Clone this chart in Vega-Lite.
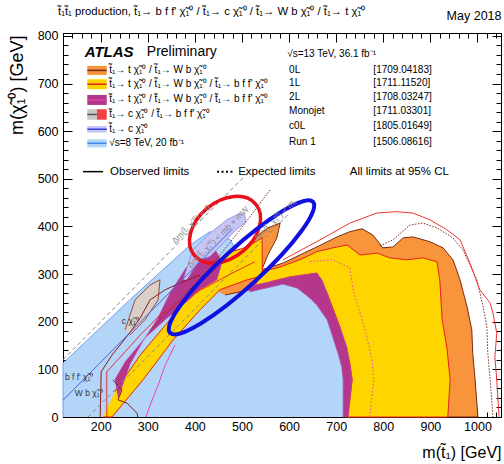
{
"$schema": "https://vega.github.io/schema/vega-lite/v6.json",
"width": 438, "height": 384, "autosize": "none",
"padding": {"left": 63, "top": 33, "right": 3, "bottom": 47},
"background": "white",
"config": {"view": {"stroke": "black", "strokeWidth": 1}, "font": "Liberation Sans"},
"title": {"text": "t̃₁t̃₁ production, t̃₁→ b f f' χ̃₁⁰ / t̃₁→ c χ̃₁⁰ / t̃₁→ W b χ̃₁⁰ / t̃₁→ t χ̃₁⁰", "anchor": "start", "frame": "group", "fontSize": 11.3, "fontWeight": "normal", "font": "Liberation Sans", "color": "black", "offset": -8, "dx": -5},
"datasets": {
"poly": [
{"id":"run1","o":1,"x":120,"y":0},{"id":"run1","o":2,"x":120,"y":113},{"id":"run1","o":3,"x":262,"y":246},{"id":"run1","o":4,"x":390,"y":361},{"id":"run1","o":5,"x":432,"y":389},{"id":"run1","o":6,"x":475,"y":372},{"id":"run1","o":7,"x":506,"y":319},{"id":"run1","o":8,"x":517,"y":263},{"id":"run1","o":9,"x":587,"y":279},{"id":"run1","o":10,"x":617,"y":271},{"id":"run1","o":11,"x":644,"y":250},{"id":"run1","o":12,"x":659,"y":235},{"id":"run1","o":13,"x":681,"y":204},{"id":"run1","o":14,"x":693,"y":168},{"id":"run1","o":15,"x":704,"y":134},{"id":"run1","o":16,"x":712,"y":105},{"id":"run1","o":17,"x":715,"y":78},{"id":"run1","o":18,"x":715,"y":0},
{"id":"or","o":1,"x":443,"y":267},{"id":"or","o":2,"x":464,"y":319},{"id":"or","o":3,"x":496,"y":347},{"id":"or","o":4,"x":528,"y":376},{"id":"or","o":5,"x":555,"y":397},{"id":"or","o":6,"x":581,"y":407},{"id":"or","o":7,"x":574,"y":376},{"id":"or","o":8,"x":555,"y":340},{"id":"or","o":9,"x":542,"y":309},{"id":"or","o":10,"x":587,"y":323},{"id":"or","o":11,"x":623,"y":340},{"id":"or","o":12,"x":659,"y":357},{"id":"or","o":13,"x":702,"y":378},{"id":"or","o":14,"x":729,"y":389},{"id":"or","o":15,"x":755,"y":395},{"id":"or","o":16,"x":778,"y":382},{"id":"or","o":17,"x":799,"y":355},{"id":"or","o":18,"x":821,"y":357},{"id":"or","o":19,"x":842,"y":376},{"id":"or","o":20,"x":863,"y":378},{"id":"or","o":21,"x":899,"y":368},{"id":"or","o":22,"x":927,"y":355},{"id":"or","o":23,"x":948,"y":330},{"id":"or","o":24,"x":963,"y":288},{"id":"or","o":25,"x":978,"y":231},{"id":"or","o":26,"x":988,"y":183},{"id":"or","o":27,"x":990,"y":134},{"id":"or","o":28,"x":995,"y":78},{"id":"or","o":29,"x":1001,"y":0},{"id":"or","o":30,"x":725,"y":0},{"id":"or","o":31,"x":729,"y":113},{"id":"or","o":32,"x":693,"y":225},{"id":"or","o":33,"x":659,"y":302},{"id":"or","o":34,"x":602,"y":294},{"id":"or","o":35,"x":517,"y":267},{"id":"or","o":36,"x":464,"y":256},
{"id":"ys","o":1,"x":205,"y":0},{"id":"ys","o":2,"x":224,"y":0},{"id":"ys","o":3,"x":290,"y":78},{"id":"ys","o":4,"x":354,"y":162},{"id":"ys","o":5,"x":411,"y":225},{"id":"ys","o":6,"x":453,"y":267},{"id":"ys","o":7,"x":511,"y":288},{"id":"ys","o":8,"x":543,"y":296},{"id":"ys","o":9,"x":543,"y":376},{"id":"ys","o":10,"x":511,"y":357},{"id":"ys","o":11,"x":468,"y":344},{"id":"ys","o":12,"x":432,"y":315},{"id":"ys","o":13,"x":396,"y":267},{"id":"ys","o":14,"x":347,"y":204},{"id":"ys","o":15,"x":284,"y":130},{"id":"ys","o":16,"x":230,"y":53},
{"id":"yb","o":1,"x":528,"y":277},{"id":"yb","o":2,"x":543,"y":305},{"id":"yb","o":3,"x":581,"y":315},{"id":"yb","o":4,"x":623,"y":330},{"id":"yb","o":5,"x":659,"y":347},{"id":"yb","o":6,"x":693,"y":355},{"id":"yb","o":7,"x":723,"y":361},{"id":"yb","o":8,"x":751,"y":340},{"id":"yb","o":9,"x":787,"y":344},{"id":"yb","o":10,"x":814,"y":334},{"id":"yb","o":11,"x":850,"y":330},{"id":"yb","o":12,"x":884,"y":334},{"id":"yb","o":13,"x":914,"y":326},{"id":"yb","o":14,"x":920,"y":288},{"id":"yb","o":15,"x":925,"y":204},{"id":"yb","o":16,"x":935,"y":147},{"id":"yb","o":17,"x":942,"y":78},{"id":"yb","o":18,"x":937,"y":0},{"id":"yb","o":19,"x":725,"y":0},{"id":"yb","o":20,"x":734,"y":78},{"id":"yb","o":21,"x":729,"y":113},{"id":"yb","o":22,"x":708,"y":189},{"id":"yb","o":23,"x":681,"y":260},{"id":"yb","o":24,"x":659,"y":302},{"id":"yb","o":25,"x":602,"y":294},{"id":"yb","o":26,"x":560,"y":284},
{"id":"mb","o":1,"x":517,"y":275},{"id":"mb","o":2,"x":560,"y":284},{"id":"mb","o":3,"x":602,"y":294},{"id":"mb","o":4,"x":659,"y":302},{"id":"mb","o":5,"x":670,"y":288},{"id":"mb","o":6,"x":681,"y":260},{"id":"mb","o":7,"x":693,"y":225},{"id":"mb","o":8,"x":708,"y":189},{"id":"mb","o":9,"x":723,"y":147},{"id":"mb","o":10,"x":729,"y":113},{"id":"mb","o":11,"x":734,"y":78},{"id":"mb","o":12,"x":725,"y":0},{"id":"mb","o":13,"x":715,"y":0},{"id":"mb","o":14,"x":715,"y":78},{"id":"mb","o":15,"x":712,"y":105},{"id":"mb","o":16,"x":704,"y":134},{"id":"mb","o":17,"x":693,"y":168},{"id":"mb","o":18,"x":681,"y":204},{"id":"mb","o":19,"x":659,"y":235},{"id":"mb","o":20,"x":644,"y":250},{"id":"mb","o":21,"x":617,"y":271},{"id":"mb","o":22,"x":587,"y":279},{"id":"mb","o":23,"x":517,"y":263},
{"id":"ms","o":1,"x":237,"y":40},{"id":"ms","o":2,"x":262,"y":110},{"id":"ms","o":3,"x":290,"y":160},{"id":"ms","o":4,"x":320,"y":205},{"id":"ms","o":5,"x":347,"y":260},{"id":"ms","o":6,"x":381,"y":313},{"id":"ms","o":7,"x":417,"y":340},{"id":"ms","o":8,"x":443,"y":351},{"id":"ms","o":9,"x":458,"y":326},{"id":"ms","o":10,"x":447,"y":288},{"id":"ms","o":11,"x":411,"y":267},{"id":"ms","o":12,"x":379,"y":239},{"id":"ms","o":13,"x":337,"y":204},{"id":"ms","o":14,"x":294,"y":166},{"id":"ms","o":15,"x":252,"y":116},{"id":"ms","o":16,"x":230,"y":78},
{"id":"lav","o":1,"x":375,"y":288},{"id":"lav","o":2,"x":396,"y":351},{"id":"lav","o":3,"x":432,"y":386},{"id":"lav","o":4,"x":468,"y":414},{"id":"lav","o":5,"x":496,"y":428},{"id":"lav","o":6,"x":506,"y":424},{"id":"lav","o":7,"x":508,"y":410},{"id":"lav","o":8,"x":481,"y":386},{"id":"lav","o":9,"x":453,"y":358},{"id":"lav","o":10,"x":432,"y":337},{"id":"lav","o":11,"x":411,"y":330},{"id":"lav","o":12,"x":396,"y":309},{"id":"lav","o":13,"x":383,"y":288},
{"id":"mj","o":1,"x":252,"y":183},{"id":"mj","o":2,"x":273,"y":246},{"id":"mj","o":3,"x":305,"y":277},{"id":"mj","o":4,"x":326,"y":288},{"id":"mj","o":5,"x":322,"y":246},{"id":"mj","o":6,"x":294,"y":204},{"id":"mj","o":7,"x":262,"y":172}
],
"lines": [
{"id":"exp0L","o":1,"x":793,"y":359},{"id":"exp0L","o":2,"x":821,"y":372},{"id":"exp0L","o":3,"x":857,"y":403},{"id":"exp0L","o":4,"x":884,"y":407},{"id":"exp0L","o":5,"x":914,"y":397},{"id":"exp0L","o":6,"x":948,"y":376},{"id":"exp0L","o":7,"x":969,"y":351},{"id":"exp0L","o":8,"x":999,"y":288},{"id":"exp0L","o":9,"x":1012,"y":231},{"id":"exp0L","o":10,"x":1020,"y":189},{"id":"exp0L","o":11,"x":1022,"y":134},{"id":"exp0L","o":12,"x":1027,"y":78},{"id":"exp0L","o":13,"x":1033,"y":0},
{"id":"exp0Ld","o":1,"x":305,"y":183},{"id":"exp0Ld","o":2,"x":368,"y":246},{"id":"exp0Ld","o":3,"x":432,"y":313},{"id":"exp0Ld","o":4,"x":496,"y":393},{"id":"exp0Ld","o":5,"x":560,"y":477},
{"id":"exp1L","o":1,"x":587,"y":330},{"id":"exp1L","o":2,"x":659,"y":368},{"id":"exp1L","o":3,"x":729,"y":407},{"id":"exp1L","o":4,"x":786,"y":428},{"id":"exp1L","o":5,"x":828,"y":431},{"id":"exp1L","o":6,"x":863,"y":428},{"id":"exp1L","o":7,"x":899,"y":414},{"id":"exp1L","o":8,"x":935,"y":393},{"id":"exp1L","o":9,"x":963,"y":372},{"id":"exp1L","o":10,"x":984,"y":323},{"id":"exp1L","o":11,"x":1005,"y":267},{"id":"exp1L","o":12,"x":1027,"y":239},{"id":"exp1L","o":13,"x":1033,"y":218},{"id":"exp1L","o":14,"x":1041,"y":176},{"id":"exp1L","o":15,"x":1037,"y":126},{"id":"exp1L","o":16,"x":1041,"y":78},{"id":"exp1L","o":17,"x":1046,"y":0},
{"id":"exp2L","o":1,"x":644,"y":326},{"id":"exp2L","o":2,"x":693,"y":330},{"id":"exp2L","o":3,"x":729,"y":313},{"id":"exp2L","o":4,"x":736,"y":267},{"id":"exp2L","o":5,"x":751,"y":218},{"id":"exp2L","o":6,"x":765,"y":169},{"id":"exp2L","o":7,"x":776,"y":120},{"id":"exp2L","o":8,"x":780,"y":78},{"id":"exp2L","o":9,"x":771,"y":0},
{"id":"obs2L","o":1,"x":296,"y":0},{"id":"obs2L","o":2,"x":305,"y":25},{"id":"obs2L","o":3,"x":322,"y":67},{"id":"obs2L","o":4,"x":337,"y":109},{"id":"obs2L","o":5,"x":358,"y":151},
{"id":"mjobs","o":1,"x":199,"y":0},{"id":"mjobs","o":2,"x":201,"y":95},{"id":"mjobs","o":3,"x":224,"y":130},{"id":"mjobs","o":4,"x":258,"y":172},{"id":"mjobs","o":5,"x":284,"y":208},{"id":"mjobs","o":6,"x":305,"y":246},{"id":"mjobs","o":7,"x":337,"y":267},{"id":"mjobs","o":8,"x":375,"y":284},{"id":"mjobs","o":9,"x":411,"y":298},
{"id":"red1","o":1,"x":213,"y":0},{"id":"red1","o":2,"x":213,"y":95},{"id":"red1","o":3,"x":252,"y":137},{"id":"red1","o":4,"x":284,"y":172},{"id":"red1","o":5,"x":326,"y":214},{"id":"red1","o":6,"x":379,"y":250},{"id":"red1","o":7,"x":432,"y":277},{"id":"red1","o":8,"x":485,"y":305},{"id":"red1","o":9,"x":528,"y":326},
{"id":"brb","o":1,"x":226,"y":78},{"id":"brb","o":2,"x":245,"y":57},{"id":"brb","o":3,"x":237,"y":36},{"id":"brb","o":4,"x":256,"y":29},{"id":"brb","o":5,"x":277,"y":8},{"id":"brb","o":6,"x":279,"y":0},
{"id":"d0","o":1,"x":120,"y":120},{"id":"d0","o":2,"x":515,"y":515},
{"id":"dt","o":1,"x":173,"y":0},{"id":"dt","o":2,"x":600,"y":427},
{"id":"dw","o":1,"x":120,"y":35},{"id":"dw","o":2,"x":480,"y":395}
],
"ell": [{"id":"red","x":464,"y":393},{"id":"blue","x":499,"y":314}],
"sw": [
{"cat":"0L","x":171.6,"x2":212.8,"y":737,"y2":718},
{"cat":"1L","x":171.6,"x2":212.8,"y":709,"y2":688},
{"cat":"2L","x":171.6,"x2":212.8,"y":676,"y2":655},
{"cat":"Monojet","x":171.6,"x2":192,"y":646,"y2":624},
{"cat":"Monojet obs","x":192,"x2":212.8,"y":646,"y2":624},
{"cat":"c0L","x":171.6,"x2":212.8,"y":611,"y2":597},
{"cat":"Run 1","x":171.6,"x2":212.8,"y":583,"y2":566}
],
"swl": [
{"cat":"0L","x":171.6,"x2":212.8,"y":727.5},
{"cat":"1L","x":171.6,"x2":212.8,"y":698.5},
{"cat":"2L","x":171.6,"x2":212.8,"y":665.5},
{"cat":"Monojet","x":171.6,"x2":192,"y":635},
{"cat":"c0L","x":171.6,"x2":212.8,"y":604},
{"cat":"Run 1","x":171.6,"x2":212.8,"y":574.5},
{"cat":"obs","x":162.5,"x2":205,"y":515}
],
"txt": [
{"g":"atlas","t":"ATLAS","x":166,"y":767},
{"g":"prelim","t":"Preliminary","x":298,"y":767},
{"g":"rs","t":"√s=13 TeV, 36.1 fb⁻¹","x":596,"y":762},
{"g":"leg","t":"t̃₁→ t χ̃₁⁰ / t̃₁→ W b χ̃₁⁰","x":218,"y":729},
{"g":"leg","t":"t̃₁→ t χ̃₁⁰ / t̃₁→ W b χ̃₁⁰ / t̃₁→ b f f' χ̃₁⁰","x":218,"y":700},
{"g":"leg","t":"t̃₁→ t χ̃₁⁰ / t̃₁→ W b χ̃₁⁰ / t̃₁→ b f f' χ̃₁⁰","x":218,"y":667},
{"g":"leg","t":"t̃₁→ c χ̃₁⁰ / t̃₁→ b f f' χ̃₁⁰","x":218,"y":636},
{"g":"leg","t":"t̃₁→ c χ̃₁⁰","x":218,"y":605},
{"g":"leg","t":"√s=8 TeV, 20 fb⁻¹","x":218,"y":576},
{"g":"col","t":"0L","x":600,"y":729},
{"g":"col","t":"1L","x":600,"y":701},
{"g":"col","t":"2L","x":600,"y":672},
{"g":"col","t":"Monojet","x":600,"y":643},
{"g":"col","t":"c0L","x":600,"y":610},
{"g":"col","t":"Run 1","x":600,"y":577},
{"g":"col","t":"[1709.04183]","x":779,"y":729},
{"g":"col","t":"[1711.11520]","x":779,"y":701},
{"g":"col","t":"[1708.03247]","x":779,"y":672},
{"g":"col","t":"[1711.03301]","x":779,"y":643},
{"g":"col","t":"[1805.01649]","x":779,"y":610},
{"g":"col","t":"[1506.08616]","x":779,"y":577},
{"g":"big","t":"Observed limits","x":220,"y":515},
{"g":"big","t":"Expected limits","x":492,"y":515},
{"g":"big","t":"All limits at 95% CL","x":729,"y":515},
{"g":"lab","t":"b f f' χ̃₁⁰","x":124,"y":84},
{"g":"lab","t":"W b χ̃₁⁰","x":145,"y":50},
{"g":"lab","t":"c χ̃₁⁰","x":245,"y":202},
{"g":"diag","t":"Δm(t̃₁,χ̃₁⁰) < 0","x":392,"y":405},
{"g":"diag","t":"Δm(t̃₁,χ̃₁⁰) < mb + mW","x":449,"y":378},
{"g":"diag","t":"Δm(t̃₁,χ̃₁⁰) < mₜ","x":570,"y":414}
]
},
"encoding": {
"x": {"field": "x", "type": "quantitative", "scale": {"domain": [120, 1050], "nice": false, "zero": false}, "axis": null},
"y": {"field": "y", "type": "quantitative", "scale": {"domain": [0, 806], "nice": false, "zero": false}, "axis": null}
},
"layer": [
{"data": {"name": "poly"}, "transform": [{"filter": "datum.id === 'run1'"}],
 "mark": {"type": "line", "fill": "#b3d6f8", "stroke": "#5a8ae8", "strokeWidth": 0.8},
 "encoding": {"order": {"field": "o"},
  "x": {"field": "x", "type": "quantitative", "scale": {"domain": [120, 1050], "nice": false, "zero": false},
   "axis": {"orient": "bottom", "values": [120,140,160,180,200,220,240,260,280,300,320,340,360,380,400,420,440,460,480,500,520,540,560,580,600,620,640,660,680,700,720,740,760,780,800,820,840,860,880,900,920,940,960,980,1000,1020,1040],
    "labelExpr": "datum.value % 100 === 0 ? format(datum.value, 'd') : ''",
    "tickSize": {"condition": {"test": "datum.value % 100 === 0", "value": -9}, "value": -5},
    "labelPadding": 12, "labelFontSize": 12.5, "labelColor": "black", "labelFont": "Liberation Sans", "labelOverlap": false, "labelFlush": false,
    "tickColor": "black", "domainColor": "black", "grid": false,
    "title": "m(t̃₁) [GeV]", "titleFontSize": 16, "titleFontWeight": "normal", "titleFont": "Liberation Sans", "titleColor": "black", "titleAnchor": "end", "titleAlign": "right", "titleX": 438, "titleY": 35, "titleBaseline": "middle"}},
  "y": {"field": "y", "type": "quantitative", "scale": {"domain": [0, 806], "nice": false, "zero": false},
   "axis": {"orient": "left", "values": [0,20,40,60,80,100,120,140,160,180,200,220,240,260,280,300,320,340,360,380,400,420,440,460,480,500,520,540,560,580,600,620,640,660,680,700,720,740,760,780,800],
    "labelExpr": "datum.value % 100 === 0 ? format(datum.value, 'd') : ''",
    "tickSize": {"condition": {"test": "datum.value % 100 === 0", "value": -9}, "value": -5},
    "labelPadding": 14, "labelFontSize": 12.5, "labelColor": "black", "labelFont": "Liberation Sans", "labelOverlap": false, "labelFlush": false,
    "tickColor": "black", "domainColor": "black", "grid": false,
    "title": "m(χ̃₁⁰) [GeV]", "titleFontSize": 18, "titleFontWeight": "normal", "titleFont": "Liberation Sans", "titleColor": "black", "titleAnchor": "end", "titleAlign": "right", "titleAngle": -90, "titleX": -46, "titleY": 2, "titleBaseline": "middle"}}
 }},
{"data": {"name": "poly"}, "transform": [{"filter": "datum.id === 'or'"}],
 "mark": {"type": "line", "fill": "#f7943c", "stroke": "#7a2a12", "strokeWidth": 1},
 "encoding": {"order": {"field": "o"},
  "x": {"field": "x", "type": "quantitative", "scale": {"domain": [120, 1050], "nice": false, "zero": false},
   "axis": {"orient": "top", "values": [120,140,160,180,200,220,240,260,280,300,320,340,360,380,400,420,440,460,480,500,520,540,560,580,600,620,640,660,680,700,720,740,760,780,800,820,840,860,880,900,920,940,960,980,1000,1020,1040],
    "labels": false,
    "tickSize": {"condition": {"test": "datum.value % 100 === 0", "value": -9}, "value": -5},
    "tickColor": "black", "domainColor": "black", "grid": false,
    "title": "May 2018", "titleFontSize": 12.5, "titleFontWeight": "normal", "titleFont": "Liberation Sans", "titleColor": "black", "titleAnchor": "end", "titleAlign": "right", "titleAngle": 0, "titleX": 438, "titleY": -18, "titleBaseline": "middle"}},
  "y": {"field": "y", "type": "quantitative", "scale": {"domain": [0, 806], "nice": false, "zero": false},
   "axis": {"orient": "right", "values": [0,20,40,60,80,100,120,140,160,180,200,220,240,260,280,300,320,340,360,380,400,420,440,460,480,500,520,540,560,580,600,620,640,660,680,700,720,740,760,780,800],
    "labels": false,
    "tickSize": {"condition": {"test": "datum.value % 100 === 0", "value": -9}, "value": -5},
    "tickColor": "black", "domainColor": "black", "grid": false, "title": null}}
 }},
{"data": {"name": "poly"}, "transform": [{"filter": "datum.id === 'ys' || datum.id === 'yb'"}],
 "mark": {"type": "line", "fill": "#ffd500", "stroke": "#e8201a", "strokeWidth": 1},
 "encoding": {"order": {"field": "o"}, "detail": {"field": "id"}}},
{"data": {"name": "poly"}, "transform": [{"filter": "datum.id === 'mb' || datum.id === 'ms'"}],
 "mark": {"type": "line", "fill": "#b4378c", "stroke": "#c84aa6", "strokeWidth": 0.6},
 "encoding": {"order": {"field": "o"}, "detail": {"field": "id"}}},
{"data": {"name": "poly"}, "transform": [{"filter": "datum.id === 'lav'"}],
 "mark": {"type": "line", "fill": "#c6c6f6", "stroke": "#8080e8", "strokeWidth": 0.7},
 "encoding": {"order": {"field": "o"}}},
{"data": {"name": "poly"}, "transform": [{"filter": "datum.id === 'mj'"}],
 "mark": {"type": "line", "fill": "#d9cfc8", "stroke": "#8b2b10", "strokeWidth": 0.8},
 "encoding": {"order": {"field": "o"}}},
{"data": {"name": "lines"}, "transform": [{"filter": "datum.id === 'exp0L' || datum.id === 'exp0Ld'"}],
 "mark": {"type": "line", "stroke": "#7a2a12", "strokeWidth": 1, "strokeDash": [1.5, 1.5]},
 "encoding": {"order": {"field": "o"}, "detail": {"field": "id"}}},
{"data": {"name": "lines"}, "transform": [{"filter": "datum.id === 'exp1L' || datum.id === 'red1'"}],
 "mark": {"type": "line", "stroke": "#e8201a", "strokeWidth": 0.9},
 "encoding": {"order": {"field": "o"}, "detail": {"field": "id"}}},
{"data": {"name": "lines"}, "transform": [{"filter": "datum.id === 'mjobs' || datum.id === 'brb'"}],
 "mark": {"type": "line", "stroke": "#8b1a1a", "strokeWidth": 1},
 "encoding": {"order": {"field": "o"}, "detail": {"field": "id"}}},
{"data": {"name": "lines"}, "transform": [{"filter": "datum.id === 'exp2L'"}],
 "mark": {"type": "line", "stroke": "#f040c0", "strokeWidth": 1, "strokeDash": [1.5, 2]},
 "encoding": {"order": {"field": "o"}}},
{"data": {"name": "lines"}, "transform": [{"filter": "datum.id === 'obs2L'"}],
 "mark": {"type": "line", "stroke": "#f040c0", "strokeWidth": 1},
 "encoding": {"order": {"field": "o"}}},
{"data": {"name": "lines"}, "transform": [{"filter": "datum.id === 'd0' || datum.id === 'dt'"}],
 "mark": {"type": "line", "stroke": "#888888", "strokeWidth": 1, "strokeDash": [4, 3]},
 "encoding": {"order": {"field": "o"}, "detail": {"field": "id"}}},
{"data": {"name": "lines"}, "transform": [{"filter": "datum.id === 'dw'"}],
 "mark": {"type": "line", "stroke": "#5060e0", "strokeWidth": 1},
 "encoding": {"order": {"field": "o"}}},
{"data": {"name": "ell"}, "transform": [{"filter": "datum.id === 'red'"}],
 "mark": {"type": "point", "shape": "M -0.766 0.643 A 1 0.7 -40 1 1 0.766 -0.643 A 1 0.7 -40 1 1 -0.766 0.643 Z", "size": 6400, "filled": false, "stroke": "#e8101a", "strokeWidth": 3.5, "opacity": 1}},
{"data": {"name": "ell"}, "transform": [{"filter": "datum.id === 'blue'"}],
 "mark": {"type": "point", "shape": "M -0.737 0.676 A 1 0.2 -42.5 1 1 0.737 -0.676 A 1 0.2 -42.5 1 1 -0.737 0.676 Z", "size": 37636, "filled": false, "stroke": "#1010e0", "strokeWidth": 4, "opacity": 1}},
{"data": {"name": "sw"},
 "mark": {"type": "rect"},
 "encoding": {"x2": {"field": "x2"}, "y2": {"field": "y2"},
  "fill": {"field": "cat", "type": "nominal", "legend": null, "scale": {"domain": ["0L","1L","2L","Monojet","Monojet obs","c0L","Run 1"], "range": ["#f7943c","#ffd500","#b4378c","#c8c8c8","#f04040","#c6c6f6","#b3d6f8"]}}}},
{"data": {"name": "swl"},
 "mark": {"type": "rule", "strokeWidth": 1.5},
 "encoding": {"x2": {"field": "x2"},
  "stroke": {"field": "cat", "type": "nominal", "legend": null, "scale": {"domain": ["0L","1L","2L","Monojet","c0L","Run 1","obs"], "range": ["#7a2a12","#e8201a","#e040a0","#555555","#4040e0","#3c8ce6","#000000"]}},
  "strokeWidth": {"condition": {"test": "datum.cat === 'obs'", "value": 2.5}, "value": 1.5}}},
{"data": {"values": [{"x": 447, "x2": 485, "y": 515}]},
 "mark": {"type": "rule", "stroke": "black", "strokeWidth": 2, "strokeDash": [2, 2.5]},
 "encoding": {"x2": {"field": "x2"}}},
{"data": {"name": "txt"}, "transform": [{"filter": "datum.g === 'atlas'"}],
 "mark": {"type": "text", "align": "left", "baseline": "middle", "fontSize": 15, "fontWeight": "bold", "fontStyle": "italic", "font": "Liberation Sans", "color": "black"},
 "encoding": {"text": {"field": "t"}}},
{"data": {"name": "txt"}, "transform": [{"filter": "datum.g === 'prelim'"}],
 "mark": {"type": "text", "align": "left", "baseline": "middle", "fontSize": 14, "font": "Liberation Sans", "color": "black"},
 "encoding": {"text": {"field": "t"}}},
{"data": {"name": "txt"}, "transform": [{"filter": "datum.g === 'rs' || datum.g === 'col' || datum.g === 'leg'"}],
 "mark": {"type": "text", "align": "left", "baseline": "middle", "fontSize": 10, "font": "Liberation Sans", "color": "black"},
 "encoding": {"text": {"field": "t"}}},
{"data": {"name": "txt"}, "transform": [{"filter": "datum.g === 'big'"}],
 "mark": {"type": "text", "align": "left", "baseline": "middle", "fontSize": 11.5, "font": "Liberation Sans", "color": "black"},
 "encoding": {"text": {"field": "t"}}},
{"data": {"name": "txt"}, "transform": [{"filter": "datum.g === 'lab'"}],
 "mark": {"type": "text", "align": "left", "baseline": "middle", "fontSize": 8.5, "font": "Liberation Sans", "color": "#333333"},
 "encoding": {"text": {"field": "t"}}},
{"data": {"name": "txt"}, "transform": [{"filter": "datum.g === 'diag'"}],
 "mark": {"type": "text", "align": "center", "baseline": "middle", "fontSize": 8.5, "font": "Liberation Sans", "color": "#888888", "angle": -45},
 "encoding": {"text": {"field": "t"}}}
],
"resolve": {"axis": {"x": "independent", "y": "independent"}}
}
